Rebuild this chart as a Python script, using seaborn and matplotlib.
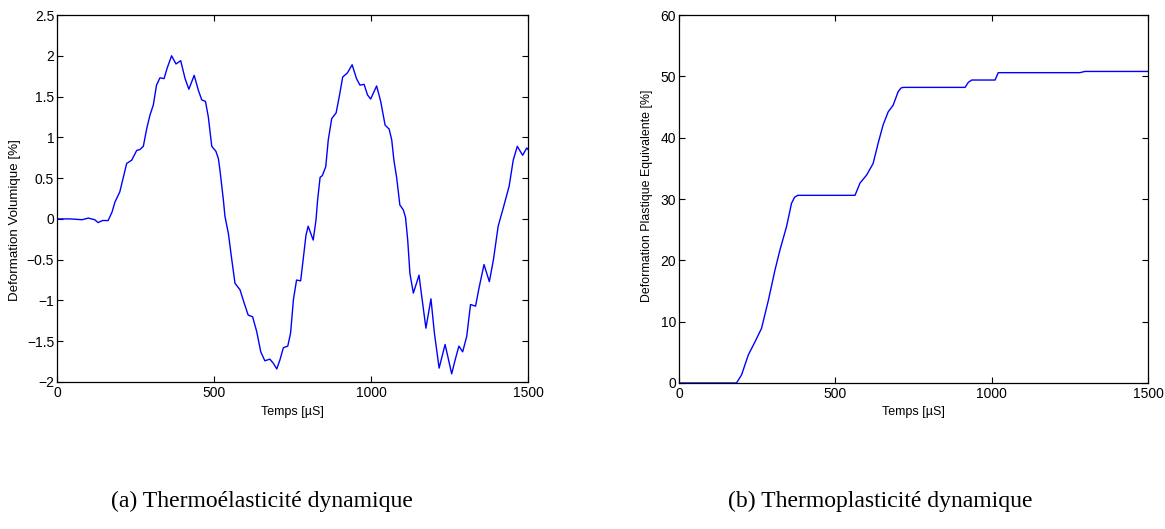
import matplotlib
matplotlib.use("Agg")
import matplotlib.pyplot as plt
import seaborn as sns
import pandas as pd

# (a) volumetric deformation
temps_a = [0, 40, 80, 100, 120, 131, 145, 163, 175, 185, 200, 212, 222, 238,
           254, 264, 275, 286, 296, 307, 317, 328, 341, 351, 365, 379, 394,
           408, 420, 437, 450, 461, 473, 482, 493, 506, 514, 519, 530, 535,
           546, 556, 567, 583, 596, 609, 623, 636, 649, 662, 678, 689, 700,
           710, 721, 735, 744, 753, 763, 776, 784, 793, 800, 816, 825, 830,
           838, 845, 856, 864, 875, 889, 899, 910, 925, 940, 954, 965, 978,
           989, 999, 1018, 1031, 1045, 1058, 1066, 1073, 1082, 1092, 1103,
           1110, 1117, 1124, 1135, 1153, 1163, 1175, 1191, 1202, 1217, 1236,
           1246, 1257, 1268, 1280, 1292, 1305, 1317, 1333, 1345, 1360, 1377,
           1390, 1405, 1421, 1440, 1453, 1466, 1483, 1496, 1500]
def_vol = [0, 0, -0.01, 0.01, -0.01, -0.045, -0.02, -0.02, 0.08, 0.21, 0.33,
           0.52, 0.68, 0.72, 0.84, 0.85, 0.89, 1.11, 1.27, 1.40, 1.64, 1.73,
           1.72, 1.85, 2.00, 1.90, 1.94, 1.72, 1.59, 1.76, 1.58, 1.46, 1.44,
           1.25, 0.89, 0.83, 0.74, 0.60, 0.23, 0.03, -0.18, -0.48, -0.79,
           -0.87, -1.03, -1.18, -1.20, -1.38, -1.63, -1.74, -1.72, -1.77,
           -1.84, -1.73, -1.58, -1.56, -1.40, -0.99, -0.75, -0.76, -0.50,
           -0.20, -0.09, -0.26, -0.01, 0.23, 0.51, 0.53, 0.64, 0.97, 1.23,
           1.30, 1.50, 1.74, 1.79, 1.89, 1.72, 1.64, 1.65, 1.52, 1.47, 1.63,
           1.44, 1.15, 1.10, 0.97, 0.72, 0.50, 0.17, 0.11, 0.02, -0.26, -0.67,
           -0.91, -0.69, -0.99, -1.34, -0.98, -1.40, -1.83, -1.54, -1.71,
           -1.90, -1.73, -1.56, -1.63, -1.44, -1.05, -1.07, -0.83, -0.56,
           -0.77, -0.50, -0.09, 0.13, 0.40, 0.72, 0.89, 0.78, 0.87, 0.85]

# (b) equivalent plastic deformation
temps_b = [0, 184, 200, 222, 243, 264, 286, 307, 323, 344, 360, 370, 380, 563,
           579, 600, 621, 637, 653, 669, 685, 701, 710, 718, 915, 925, 936,
           1011, 1021, 1282, 1298, 1500]
def_plast = [0, 0, 1.3, 4.6, 6.7, 8.9, 13.5, 18.4, 21.7, 25.5, 29.3, 30.3,
             30.6, 30.6, 32.6, 33.9, 35.8, 39.1, 42.1, 44.2, 45.3, 47.5, 48.1,
             48.2, 48.2, 49.0, 49.4, 49.4, 50.6, 50.6, 50.8, 50.8]

y_ticks_a = [-2, -1.5, -1, -0.5, 0, 0.5, 1, 1.5, 2, 2.5]
y_ticks_b = [0, 10, 20, 30, 40, 50, 60]
x_ticks = [0, 500, 1000, 1500]

sns.set_style("ticks")
plt.rcParams['font.family'] = ['Liberation Sans', 'DejaVu Sans']
plt.rcParams['axes.unicode_minus'] = True
plt.rcParams['text.color'] = 'black'
plt.rcParams['axes.labelcolor'] = 'black'
plt.rcParams['xtick.color'] = 'black'
plt.rcParams['ytick.color'] = 'black'

df_a = pd.DataFrame({'t': temps_a, 'v': def_vol})
df_b = pd.DataFrame({'t': temps_b, 'v': def_plast})

fig = plt.figure(figsize=(11.65, 5.29), dpi=100)
ax1 = fig.add_axes([0.0489, 0.2779, 0.4043, 0.6937])
ax2 = fig.add_axes([0.5828, 0.2760, 0.4026, 0.6956])

sns.lineplot(data=df_a, x='t', y='v', ax=ax1, color='blue', linewidth=1,
             estimator=None, sort=False)
sns.lineplot(data=df_b, x='t', y='v', ax=ax2, color='blue', linewidth=1,
             estimator=None, sort=False)

ax1.set_xlim(0, 1500)
ax1.set_ylim(-2, 2.5)
ax1.set_yticks(y_ticks_a)
ax1.set_yticklabels([f"{v:g}".replace('-', '\u2212') for v in y_ticks_a])
ax1.set_ylabel("Deformation Volumique [%]", fontsize=9.6)
ax1.yaxis.set_label_coords(-0.076, 0.44)
ax1.xaxis.set_label_coords(0.5, -0.065)

ax2.set_xlim(0, 1500)
ax2.set_ylim(0, 60)
ax2.set_yticks(y_ticks_b)
ax2.set_ylabel("Deformation Plastique Equivalente [%]", fontsize=8.9)
ax2.yaxis.set_label_coords(-0.055, 0.51)
ax2.xaxis.set_label_coords(0.5, -0.062)

for ax in (ax1, ax2):
    ax.set_xticks(x_ticks)
    ax.set_xlabel("Temps [\u00b5S]", fontsize=9)
    ax.tick_params(direction='in', top=True, right=True, labelsize=10,
                   length=4, width=0.8)
    ax.tick_params(axis='x', pad=3)
    ax.tick_params(axis='y', pad=2)
    for s in ax.spines.values():
        s.set_linewidth(0.9)
        s.set_color('black')

fig.text(0.225, 0.052, "(a) Thermoélasticité dynamique", ha='center',
         va='center', fontsize=17, family='Liberation Serif')
fig.text(0.756, 0.052, "(b) Thermoplasticité dynamique", ha='center',
         va='center', fontsize=17, family='Liberation Serif')

fig.savefig('out.png', dpi=100)
